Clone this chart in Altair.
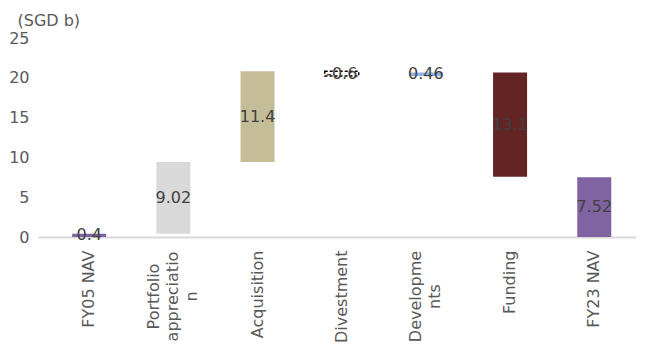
import altair as alt
import pandas as pd

categories = ["FY05 NAV", "Portfolio appreciation", "Acquisition", "Divestment",
              "Developments", "Funding", "FY23 NAV"]
axis_labels = ["FY05 NAV", "Portfolio\nappreciatio\nn", "Acquisition", "Divestment",
               "Developme\nnts", "Funding", "FY23 NAV"]
values = [0.4, 9.02, 11.4, -0.6, 0.46, -13.1, 7.52]
label_text = ["0.4", "9.02", "11.4", "-0.6", "0.46", "13.1", "7.52"]
colors = ["#8064A2", "#D9D9D9", "#C4BD97", "#FFFFFF", "#8EB4E3", "#632523", "#8064A2"]
is_total = [True, False, False, False, False, False, True]
y_ticks = [0, 5, 10, 15, 20, 25]

rows = []
running = 0.0
for cat, lab, v, txt, col, tot in zip(categories, axis_labels, values, label_text, colors, is_total):
    if tot:
        start, end = 0.0, v
        running = v
    else:
        start = running
        end = running + v
        running = end
    rows.append({"cat": lab, "start": start, "end": end, "mid": (start + end) / 2,
                 "txt": txt, "color": col, "dashed": cat == "Divestment"})
df = pd.DataFrame(rows)

FONT = "DejaVu Sans"
multi = "indexof(datum.value, '\\n') >= 0"
three = "length(split(datum.value, '\\n')) == 3"
two = "length(split(datum.value, '\\n')) == 2"
x_scale = alt.Scale(paddingInner=0.596, paddingOuter=0.35, align=0.58)
x_axis = alt.Axis(labelAngle=-90, labelExpr="split(datum.label, '\\n')",
                  labelFont=FONT, labelFontSize=16, labelColor="#595959",
                  labelAlign={"condition": {"test": multi, "value": "center"}, "value": "right"},
                  labelPadding={"condition": {"test": multi, "value": 59}, "value": 13},
                  labelOffset={"condition": [{"test": three, "value": -19},
                                             {"test": two, "value": -9.5}], "value": 0},
                  labelBaseline="middle",
                  labelLineHeight=19, ticks=False,
                  labelOverlap=False, labelBound=False, labelLimit=0,
                  domainColor="#D9D9D9", domainWidth=2)
y_scale = alt.Scale(domain=[0, 25], nice=False)
y_axis = alt.Axis(values=y_ticks, grid=False, ticks=False, domain=False,
                  labelOverlap=False, labelFlush=False,
                  labelFont=FONT, labelFontSize=16, labelColor="#595959",
                  labelPadding=9, title="(SGD b)", titleAngle=0,
                  titleFont=FONT, titleFontSize=16, titleFontWeight="normal",
                  titleColor="#595959", titleX=-21, titleY=-18,
                  titleAlign="left", titleBaseline="middle")

bars = alt.Chart(df).mark_bar().encode(
    x=alt.X("cat:N", sort=axis_labels, title=None, scale=x_scale, axis=x_axis),
    y=alt.Y("start:Q", scale=y_scale, axis=y_axis),
    y2="end:Q",
    color=alt.Color("color:N", scale=None),
    stroke=alt.condition("datum.dashed", alt.value("#000000"), alt.value(None)),
    strokeDash=alt.condition("datum.dashed", alt.value([3, 2]), alt.value([1, 0])),
    strokeWidth=alt.condition("datum.dashed", alt.value(1.5), alt.value(0)),
)
text = alt.Chart(df).mark_text(font=FONT, fontSize=16, color="#404040").encode(
    x=alt.X("cat:N", sort=axis_labels, title=None, scale=x_scale, axis=x_axis),
    y=alt.Y("mid:Q", scale=y_scale, axis=y_axis),
    text="txt:N")

chart = (bars + text).properties(
    width=598, height=199,
    background="white",
    autosize=alt.AutoSizeParams(type="none"),
    padding={"left": 30, "top": 30, "right": 7, "bottom": 105},
).configure_view(strokeOpacity=0)

chart.save("out.html", embed_options={"renderer": "svg", "actions": False})
